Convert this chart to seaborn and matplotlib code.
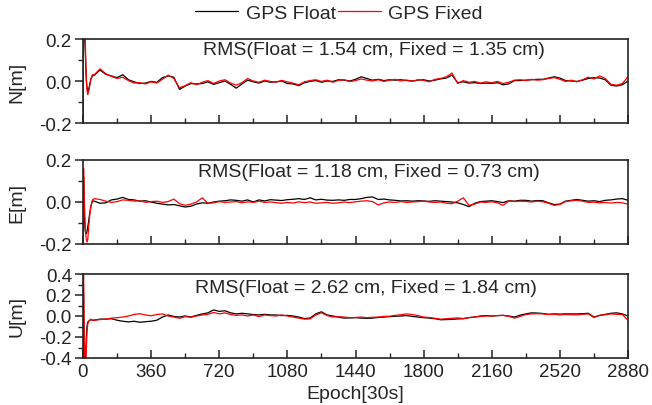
import numpy as np
import pandas as pd
import seaborn as sns
import matplotlib
matplotlib.use('Agg')
import matplotlib.pyplot as plt
from matplotlib.ticker import MultipleLocator

# epochs: dense at the start (convergence), then every 30 epochs
epoch_head = [0, 3, 6, 9, 12, 15, 18, 21, 25, 30, 36, 42, 50]
epochs = epoch_head + list(range(60, 2881, 30))

# North [m]
n_float = [
    -0.30, 0.28, 0.30, 0.22, 0.15, 0.06, 0.00, -0.03, -0.05, -0.04, -0.015, 0.010, 0.025,
    0.028, 0.052, 0.032, 0.024, 0.016, 0.030, 0.006, -0.004, -0.012, -0.010,
    -0.002, -0.006, 0.016, 0.024, 0.018, -0.040, -0.024, -0.012, -0.014, -0.012,
    -0.004, -0.016, -0.008, 0.000, -0.016, -0.034, -0.014, 0.004, -0.004, -0.010,
    0.000, -0.006, -0.004, 0.000, -0.012, -0.014, -0.022, -0.008, -0.002, 0.002,
    -0.006, 0.000, -0.002, 0.006, 0.004, 0.000, 0.008, 0.020, 0.012, 0.004,
    0.008, 0.002, 0.006, 0.004, 0.006, 0.002, 0.000, 0.004, 0.006, 0.000,
    0.004, 0.010, 0.014, 0.028, -0.008, -0.004, -0.010, -0.008, -0.012, -0.010,
    -0.012, -0.008, -0.018, -0.014, 0.002, 0.002, 0.004, 0.006, 0.008, 0.008,
    0.014, 0.020, 0.014, 0.002, 0.000, -0.002, 0.004, 0.012, 0.016, 0.014,
    0.006, -0.020, -0.024, -0.018, 0.000,
]
n_fixed = [
    -0.30, 0.30, 0.35, 0.30, 0.20, 0.08, 0.00, -0.04, -0.065, -0.05, -0.02, 0.010, 0.030,
    0.030, 0.058, 0.035, 0.022, 0.012, 0.018, 0.002, -0.010, -0.008, -0.014,
    -0.004, -0.010, 0.008, 0.028, 0.012, -0.032, -0.022, -0.008, -0.018, -0.006,
    0.002, -0.012, 0.000, 0.006, -0.010, -0.020, -0.008, 0.012, 0.000, -0.006,
    0.004, -0.002, -0.006, 0.003, -0.004, -0.010, -0.018, -0.004, 0.002, 0.006,
    -0.002, 0.004, -0.006, 0.003, 0.006, -0.003, 0.002, 0.010, 0.004, 0.000,
    0.006, -0.002, 0.004, 0.008, 0.000, 0.005, -0.002, 0.006, 0.003, -0.004,
    0.008, 0.012, 0.020, 0.038, -0.012, 0.002, -0.006, -0.002, -0.010, -0.004,
    -0.008, -0.002, -0.012, -0.006, 0.004, 0.006, 0.002, 0.008, 0.004, 0.006,
    0.012, 0.016, 0.008, -0.002, 0.004, -0.004, 0.006, 0.018, 0.010, 0.024,
    0.012, -0.016, -0.020, -0.012, 0.020,
]

# East [m]
e_float = [
    -0.25, 0.12, 0.00, -0.10, -0.14, -0.15, -0.15, -0.14, -0.12, -0.09, -0.05, -0.02, 0.005,
    0.004, -0.006, -0.004, 0.010, 0.014, 0.022, 0.012, 0.010, 0.004, 0.006,
    0.000, -0.006, -0.010, -0.014, -0.012, -0.018, -0.024, -0.020, -0.010, -0.004,
    -0.006, 0.000, 0.004, 0.006, 0.010, 0.008, 0.004, 0.010, 0.000, 0.010,
    0.005, 0.011, 0.009, 0.007, 0.011, 0.013, 0.016, 0.012, 0.020, 0.010,
    0.013, 0.009, 0.008, 0.010, 0.008, 0.012, 0.012, 0.016, 0.022, 0.024,
    0.012, 0.014, 0.010, 0.008, 0.005, 0.006, 0.004, 0.006, 0.005, 0.003,
    0.006, 0.004, 0.002, 0.000, -0.004, -0.012, -0.022, -0.006, 0.002, 0.004,
    0.006, 0.002, -0.003, 0.006, 0.004, 0.008, 0.008, 0.004, 0.007, 0.006,
    -0.004, -0.012, -0.010, 0.004, 0.008, 0.012, 0.008, 0.004, 0.006, 0.002,
    0.008, 0.010, 0.014, 0.016, 0.008,
]
e_fixed = [
    -0.25, 0.16, 0.05, -0.05, -0.12, -0.16, -0.18, -0.19, -0.18, -0.12, -0.06, -0.02, 0.010,
    0.016, 0.012, 0.004, -0.002, 0.002, 0.010, 0.008, 0.004, 0.006, -0.002,
    0.002, 0.004, -0.002, 0.002, 0.014, -0.008, -0.016, -0.010, 0.000, 0.020,
    -0.006, -0.004, 0.002, -0.002, 0.000, 0.002, -0.004, 0.001, -0.002, 0.004,
    -0.002, 0.000, -0.003, -0.006, -0.002, -0.005, 0.001, -0.003, 0.000, -0.006,
    -0.004, -0.002, -0.006, -0.004, 0.000, -0.003, 0.001, 0.004, 0.006, 0.002,
    -0.014, -0.004, 0.000, -0.002, 0.002, -0.002, 0.000, 0.002, 0.004, 0.000,
    -0.002, 0.000, -0.006, -0.008, 0.004, 0.020, -0.016, -0.010, 0.000, -0.002,
    0.001, -0.004, -0.016, 0.005, 0.002, 0.004, 0.003, 0.000, 0.004, 0.001,
    -0.006, -0.016, -0.012, 0.002, 0.006, 0.008, 0.004, -0.002, -0.001, -0.004,
    -0.002, -0.005, -0.002, -0.004, -0.010,
]

# Up [m]
u_float = [
    0.45, 0.20, -0.30, -0.45, -0.42, -0.32, -0.20, -0.10, -0.06, -0.05, -0.04, -0.035, -0.04,
    -0.040, -0.030, -0.030, -0.026, -0.040, -0.050, -0.056, -0.050, -0.060, -0.054,
    -0.050, -0.040, -0.010, 0.010, -0.004, -0.010, 0.000, -0.010, 0.006, 0.020,
    0.030, 0.058, 0.044, 0.050, 0.030, 0.020, 0.026, 0.020, 0.014, 0.010,
    0.016, 0.010, 0.010, 0.004, 0.006, 0.000, -0.010, -0.024, -0.020, 0.020,
    0.040, 0.010, 0.000, -0.010, -0.020, -0.018, -0.016, -0.020, -0.022, -0.020,
    -0.014, -0.010, -0.006, -0.002, 0.000, 0.004, -0.004, -0.010, -0.016, -0.020,
    -0.026, -0.036, -0.034, -0.032, -0.028, -0.026, -0.016, -0.010, 0.000, 0.004,
    0.000, 0.004, 0.006, 0.000, -0.010, 0.008, 0.020, 0.030, 0.028, 0.024,
    0.016, 0.020, 0.018, 0.020, 0.020, 0.020, 0.022, 0.026, -0.010, 0.006,
    0.016, 0.026, 0.030, 0.020, 0.000,
]
u_fixed = [
    0.50, 0.45, -0.10, -0.50, -0.50, -0.45, -0.30, -0.15, -0.08, -0.05, -0.04, -0.03, -0.04,
    -0.040, -0.034, -0.030, -0.020, -0.016, -0.010, 0.000, 0.014, 0.022, 0.010,
    0.002, 0.014, 0.020, 0.000, -0.010, -0.022, -0.006, -0.012, 0.000, 0.010,
    0.016, 0.034, 0.020, 0.030, 0.014, 0.006, 0.010, 0.000, 0.010, -0.006,
    0.010, 0.004, 0.000, 0.010, 0.000, -0.010, -0.020, -0.030, -0.028, 0.010,
    0.030, 0.004, -0.010, -0.006, -0.010, -0.016, -0.014, -0.010, -0.016, -0.012,
    -0.010, -0.004, -0.002, 0.006, 0.012, 0.020, 0.014, 0.004, -0.010, -0.014,
    -0.022, -0.030, -0.026, -0.022, -0.018, -0.024, -0.014, -0.010, -0.004, 0.000,
    0.000, 0.004, 0.006, -0.004, -0.020, -0.004, 0.014, 0.020, 0.022, 0.020,
    0.014, 0.016, 0.010, 0.014, 0.012, 0.010, 0.016, 0.020, -0.014, 0.006,
    0.012, 0.020, 0.016, 0.014, -0.040,
]

panels = [
    ('N[m]', n_float, n_fixed, 0.2, 'RMS(Float = 1.54 cm, Fixed = 1.35 cm)'),
    ('E[m]', e_float, e_fixed, 0.2, 'RMS(Float = 1.18 cm, Fixed = 0.73 cm)'),
    ('U[m]', u_float, u_fixed, 0.4, 'RMS(Float = 2.62 cm, Fixed = 1.84 cm)'),
]

sns.set_style('ticks')
plt.rcParams['font.family'] = ['Liberation Sans', 'DejaVu Sans']
plt.rcParams['font.size'] = 14

fig = plt.figure(figsize=(6.52, 4.06), dpi=100)
# axes boxes in pixels: left 83, right 628, tops 40/161/275, height 84
rects = [(83, 40), (83, 161), (83, 275)]
palette = {'GPS Float': 'black', 'GPS Fixed': 'red'}
text_pos = [(0.534, 0.875), (0.525, 0.865), (0.519, 0.835)]

axes = []
for k, (lab, fl, fx, lim, rms) in enumerate(panels):
    x0, y0 = rects[k]
    ax = fig.add_axes([x0 / 652, 1 - (y0 + 84) / 406, 545 / 652, 84 / 406])
    df = pd.DataFrame({
        'epoch': epochs * 2,
        'value': fl + fx,
        'series': ['GPS Float'] * len(fl) + ['GPS Fixed'] * len(fx),
    })
    sns.lineplot(data=df, x='epoch', y='value', hue='series', palette=palette,
                 linewidth=0.9, legend=False, ax=ax)
    ax.set_xlim(0, 2880)
    ax.set_ylim(-lim, lim)
    ax.xaxis.set_major_locator(MultipleLocator(360))
    ax.xaxis.set_minor_locator(MultipleLocator(180))
    ax.yaxis.set_major_locator(MultipleLocator(0.2))
    ax.yaxis.set_minor_locator(MultipleLocator(0.1))
    ax.yaxis.set_major_formatter(matplotlib.ticker.FormatStrFormatter('%.1f'))
    ax.tick_params(axis='x', which='major', direction='in', length=6, width=1.1)
    ax.tick_params(axis='x', which='minor', direction='in', length=3.5, width=1.0)
    ax.tick_params(axis='y', which='major', direction='out', length=6, width=1.1, pad=2)
    ax.tick_params(axis='y', which='minor', direction='out', length=3.5, width=1.0)
    ax.tick_params(labelsize=13.5, colors='#222222')
    for s in ax.spines.values():
        s.set_linewidth(1.2)
        s.set_color('#222222')
    ax.set_ylabel(lab, fontsize=14)
    ax.yaxis.set_label_coords(-0.105, 0.5)
    if k < 2:
        ax.set_xlabel('')
        ax.tick_params(axis='x', labelbottom=False)
    else:
        ax.set_xlabel('Epoch[30s]', fontsize=14)
        ax.xaxis.set_label_coords(0.5, -0.32)
    ax.text(text_pos[k][0], text_pos[k][1], rms, transform=ax.transAxes,
            ha='center', va='center', fontsize=14)
    axes.append(ax)

handles = axes[0].get_lines()[:2]
fig.legend(handles, ['GPS Float', 'GPS Fixed'], loc='center',
           bbox_to_anchor=(339 / 652, 1 - 14 / 406), ncol=2, frameon=False,
           handlelength=2.2, handletextpad=0.4, columnspacing=0.1, fontsize=14)

fig.savefig('out.png', dpi=100)
